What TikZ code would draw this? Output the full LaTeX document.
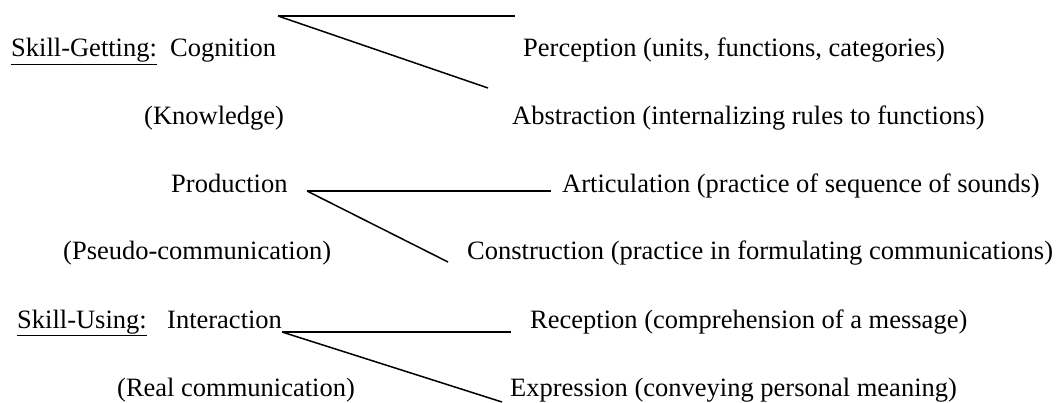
\documentclass[tikz,border=0pt]{standalone}
\usepackage{fontspec}
\setmainfont{Liberation Serif}
\usepackage{tikz}

\begin{document}
\begin{tikzpicture}
[
  x=1pt, y=-1pt,
  lbl/.style={anchor=base west, inner sep=0pt, font=\fontsize{26.5}{30}\selectfont},
  branch/.style={draw=black, line width=1.5pt},
]
\useasboundingbox (0,0) rectangle (1057,403);

\node[lbl] (getting) at (11,57) {\underline{Skill-Getting:}};
\node[lbl] (cognition) at (170,57) {Cognition};
\node[lbl] (knowledge) at (144,124.5) {(Knowledge)};
\node[lbl] (perception) at (523,57) {Perception (units, functions, categories)};
\node[lbl] (abstraction) at (512,124.5) {Abstraction (internalizing rules to functions)};

\node[lbl] (production) at (171,193) {Production};
\node[lbl] (pseudo) at (63,260) {(Pseudo-communication)};
\node[lbl] (articulation) at (562,193) {Articulation (practice of sequence of sounds)};
\node[lbl] (construction) at (467,260) {Construction (practice in formulating communications)};

\node[lbl] (using) at (17,328) {\underline{Skill-Using:}};
\node[lbl] (interaction) at (167,328) {Interaction};
\node[lbl] (real) at (117,396) {(Real communication)};
\node[lbl] (reception) at (530,328) {Reception (comprehension of a message)};
\node[lbl] (expression) at (510,396) {Expression (conveying personal meaning)};

\coordinate (cogroot) at (278,16);
\coordinate (cogtop) at (515,16);
\coordinate (coglow) at (488,88);
\coordinate (prodroot) at (307,191);
\coordinate (prodtop) at (551,191);
\coordinate (prodlow) at (448,262);
\coordinate (introot) at (282,332);
\coordinate (inttop) at (511,332);
\coordinate (intlow) at (502,402);

\draw[branch] (cogroot) -- (cogtop);
\draw[branch] (cogroot) -- (coglow);
\draw[branch] (prodroot) -- (prodtop);
\draw[branch] (prodroot) -- (prodlow);
\draw[branch] (introot) -- (inttop);
\draw[branch] (introot) -- (intlow);
\end{tikzpicture}
\end{document}
